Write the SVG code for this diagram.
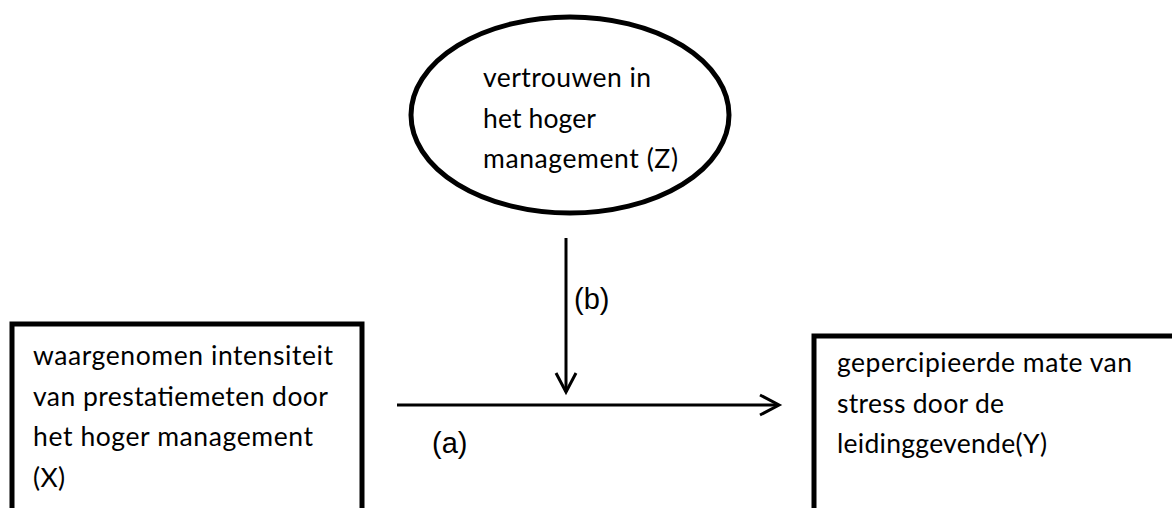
<svg xmlns="http://www.w3.org/2000/svg" width="1172" height="508" viewBox="0 0 1172 508">
<style>
.node{fill:#fff;stroke:#000;stroke-width:5}
.t{font-family:Lato,"Open Sans","Liberation Sans",sans-serif;font-size:26.5px;fill:#000}
.lbl{font-family:"Liberation Sans",Arial,sans-serif;font-size:29px;fill:#000}
.con{fill:none;stroke:#000;stroke-width:3}
</style>
<rect width="1172" height="508" fill="#fff"/>
<g id="node-z">
<ellipse class="node" cx="570" cy="115" rx="159" ry="98" stroke-width="4.5"/>
<text class="t" x="483" y="87" textLength="168">vertrouwen in</text>
<text class="t" x="483" y="128" textLength="113">het hoger</text>
<text class="t" x="483" y="168" textLength="195">management (Z)</text>
</g>
<g id="node-x">
<rect class="node" x="12" y="324" width="350" height="220"/>
<text class="t" x="33" y="365" textLength="300">waargenomen intensiteit</text>
<text class="t" x="33" y="406" textLength="295">van prestatiemeten door</text>
<text class="t" x="33" y="446" textLength="280">het hoger management</text>
<text class="t" x="33" y="487" textLength="32">(X)</text>
</g>
<g id="node-y">
<rect class="node" x="814" y="336" width="400" height="210"/>
<text class="t" x="837" y="372" textLength="295">gepercipieerde mate van</text>
<text class="t" x="837" y="413" textLength="167">stress door de</text>
<text class="t" x="837" y="453" textLength="210">leidinggevende(Y)</text>
</g>
<g id="connectors">
<line class="con" x1="566" y1="238" x2="566" y2="392"/>
<polyline class="con" points="556,373 566,392 576,373"/>
<line class="con" x1="397" y1="405" x2="778" y2="405"/>
<polyline class="con" points="760,395 779,405 760,415"/>
<text class="lbl" x="574" y="309">(b)</text>
<text class="lbl" x="432" y="453">(a)</text>
</g>
</svg>
